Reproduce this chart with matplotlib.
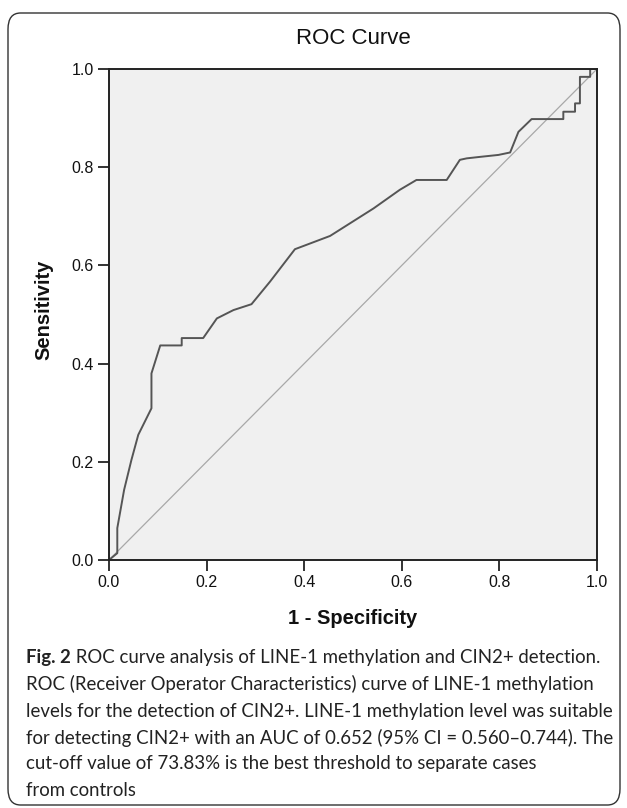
import matplotlib
matplotlib.use('Agg')
import matplotlib.pyplot as plt
from matplotlib.patches import FancyBboxPatch

# ROC curve points (1 - specificity, sensitivity)
fpr = [0.0, 0.017, 0.017, 0.031, 0.046, 0.060, 0.087, 0.087, 0.105, 0.149, 0.149,
       0.193, 0.221, 0.255, 0.292, 0.330, 0.381, 0.453, 0.542, 0.596, 0.630, 0.692,
       0.719, 0.733, 0.760, 0.798, 0.822, 0.839, 0.866, 0.931, 0.931, 0.955, 0.955,
       0.965, 0.965, 0.986, 0.986, 1.0]
tpr = [0.0, 0.014, 0.065, 0.143, 0.204, 0.255, 0.309, 0.380, 0.437, 0.437, 0.452,
       0.452, 0.492, 0.509, 0.521, 0.567, 0.633, 0.660, 0.716, 0.754, 0.774, 0.774,
       0.815, 0.818, 0.821, 0.825, 0.830, 0.872, 0.898, 0.898, 0.913, 0.913, 0.930,
       0.930, 0.984, 0.984, 1.0, 1.0]
ticks = [0.0, 0.2, 0.4, 0.6, 0.8, 1.0]
tick_labels = ['0.0', '0.2', '0.4', '0.6', '0.8', '1.0']

caption_bold = 'Fig. 2'
caption_lines = [
    ' ROC curve analysis of LINE-1 methylation and CIN2+ detection.',
    'ROC (Receiver Operator Characteristics) curve of LINE-1 methylation',
    'levels for the detection of CIN2+. LINE-1 methylation level was suitable',
    'for detecting CIN2+ with an AUC of 0.652 (95% CI = 0.560\u20130.744). The',
    'cut-off value of 73.83% is the best threshold to separate cases',
    'from controls',
]

W, H = 627, 808
fig = plt.figure(figsize=(W / 100, H / 100), dpi=100)
fig.patch.set_facecolor('white')

# rounded frame round the whole figure
frame = FancyBboxPatch((8 / W, 3 / H), 612 / W, 792 / H,
                       boxstyle='round,pad=0,rounding_size=0.02',
                       transform=fig.transFigure, fill=False,
                       edgecolor='#333333', linewidth=1.0)
fig.patches.append(frame)

ax = fig.add_axes([109 / W, 1 - 560 / H, 488 / W, 491 / H])
ax.set_facecolor('#f0f0f0')
ax.plot([0, 1], [0, 1], color='#a8a8a8', linewidth=0.9)
ax.plot(fpr, tpr, color='#555555', linewidth=1.4)
ax.set_xlim(0, 1)
ax.set_ylim(0, 1)
ax.set_xticks(ticks)
ax.set_xticklabels(tick_labels)
ax.set_yticks(ticks)
ax.set_yticklabels(tick_labels)
ax.tick_params(direction='out', length=8, width=1.2, labelsize=11.5,
               colors='#111111', pad=3)
for s in ax.spines.values():
    s.set_linewidth(1.4)
    s.set_color('#222222')

chart_font = 'Liberation Sans'
for lab in ax.get_xticklabels() + ax.get_yticklabels():
    lab.set_family(chart_font)

fig.text(353 / W, 1 - 38 / H, 'ROC Curve', ha='center', va='center',
         fontsize=16, family=chart_font, color='#111111')
fig.text(353 / W, 1 - 619 / H, '1 - Specificity', ha='center', va='center',
         fontsize=14.5, fontweight='bold', family=chart_font, color='#111111')
fig.text(44 / W, 1 - 310 / H, 'Sensitivity', ha='center', va='center',
         rotation=90, fontsize=14.5, fontweight='bold', family=chart_font,
         color='#111111')

# caption
cap_font = 'Lato'
cap_size = 13.4
x0 = 26 / W
ys = [657, 684, 711, 738, 764, 791]
b = fig.text(x0, 1 - ys[0] / H, caption_bold, ha='left', va='center',
             fontsize=cap_size, fontweight='bold', family=cap_font, color='#222222')
fig.canvas.draw()
bb = b.get_window_extent(renderer=fig.canvas.get_renderer())
x1 = bb.x1 / W
fig.text(x1, 1 - ys[0] / H, caption_lines[0], ha='left', va='center',
         fontsize=cap_size, family=cap_font, color='#222222')
for line, y in zip(caption_lines[1:], ys[1:]):
    fig.text(x0, 1 - y / H, line, ha='left', va='center',
             fontsize=cap_size, family=cap_font, color='#222222')

fig.savefig('out.png', dpi=100)
